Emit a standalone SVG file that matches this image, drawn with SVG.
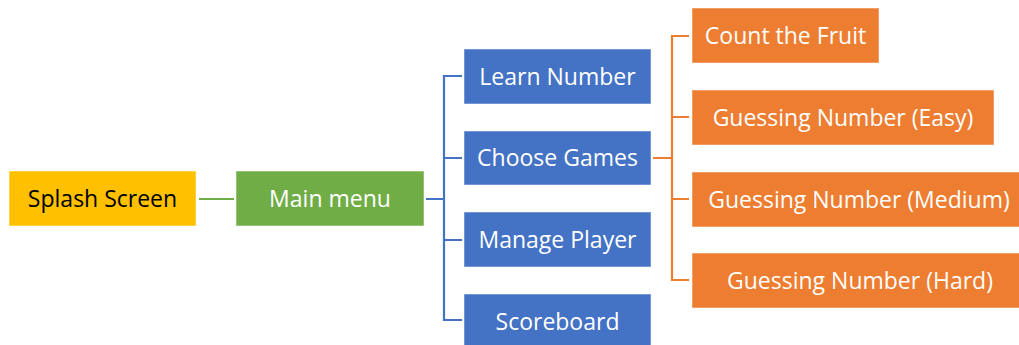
<svg xmlns="http://www.w3.org/2000/svg" width="1019" height="345" viewBox="0 0 1019 345">
<style>
text{font-family:"Open Sans","Noto Sans",sans-serif;font-size:23px;text-anchor:middle;fill:#fff}
.box{stroke:#fff;stroke-opacity:0.5;stroke-width:1}
.y{fill:#FFC000}.g{fill:#70AD47}.b{fill:#4472C4}.o{fill:#ED7D31}
.c{fill:none;stroke-width:2.2}
</style>
<rect width="1019" height="345" fill="#fff"/>
<g id="connectors">
<path class="c" stroke="#70AD47" d="M199 199H234"/>
<path class="c" stroke="#4472C4" d="M426 199H444M462 76H444V320H462M444 158H462M444 240H462"/>
<path class="c" stroke="#ED7D31" d="M653 158H672M689 36H672V280H689M672 117H689M672 199H689"/>
</g>
<g id="splash"><rect class="box y" x="9" y="171" width="187" height="55"/><text x="102.5" y="207" style="fill:#000">Splash Screen</text></g>
<g id="main"><rect class="box g" x="236" y="171" width="188" height="55"/><text x="330" y="207">Main menu</text></g>
<g id="learn"><rect class="box b" x="464" y="49" width="187" height="55"/><text x="557.5" y="85">Learn Number</text></g>
<g id="choose"><rect class="box b" x="464" y="131" width="187" height="54"/><text x="557.5" y="166">Choose Games</text></g>
<g id="manage"><rect class="box b" x="464" y="212" width="187" height="55"/><text x="557.5" y="248">Manage Player</text></g>
<g id="score"><rect class="box b" x="464" y="294" width="187" height="55"/><text x="557.5" y="330">Scoreboard</text></g>
<g id="fruit"><rect class="box o" x="692" y="8" width="187" height="55"/><text x="785.5" y="44">Count the Fruit</text></g>
<g id="easy"><rect class="box o" x="692" y="90" width="302" height="55"/><text x="843" y="126">Guessing Number (Easy)</text></g>
<g id="medium"><rect class="box o" x="692" y="172" width="335" height="55"/><text x="859" y="208">Guessing Number (Medium)</text></g>
<g id="hard"><rect class="box o" x="692" y="253" width="335" height="55"/><text x="860" y="289">Guessing Number (Hard)</text></g>
</svg>
